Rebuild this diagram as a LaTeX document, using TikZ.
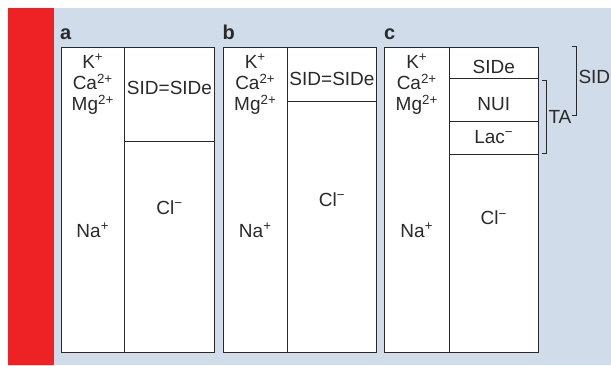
\documentclass[tikz,border=0pt]{standalone}
\usepackage{fontspec}
\setmainfont{Liberation Sans}
\definecolor{stripred}{HTML}{EE2124}
\definecolor{panelblue}{HTML}{D0DCE9}
\definecolor{inkgray}{HTML}{2A2A2A}
\newcommand{\ionsup}[1]{\textsuperscript{#1}}
\begin{document}
\begin{tikzpicture}[x=1pt,y=-1pt,
  cell/.style={draw=inkgray,line width=0.9pt,fill=white},
  rule/.style={draw=inkgray,line width=0.9pt},
  ion/.style={anchor=base,inner sep=0pt,text=inkgray,font=\fontsize{19}{21}\selectfont},
  sidelabel/.style={anchor=base west,inner sep=0pt,text=inkgray,font=\fontsize{19}{21}\selectfont},
  panellabel/.style={anchor=base west,inner sep=0pt,text=inkgray,font=\bfseries\fontsize{20}{24}\selectfont},
  bracket/.style={draw=inkgray,line width=0.8pt}]
\useasboundingbox (0,0) rectangle (611,365);
\fill[white] (0,0) rectangle (611,365);
\fill[panelblue] (54,8) rectangle (611,365);
\fill[stripred] (8,8) rectangle (54,365);

% panel a
\node[panellabel] (la) at (60,39) {a};
\draw[cell] (61,47) rectangle (214.5,352);
\draw[rule] (124.5,47) -- (124.5,352);
\draw[rule] (124.5,141.5) -- (214.5,141.5);
\node[ion] (aK)  at (92.75,68)   {K\ionsup{+}};
\node[ion] (aCa) at (92.75,89.5) {Ca\ionsup{2+}};
\node[ion] (aMg) at (92.75,110.7){Mg\ionsup{2+}};
\node[ion] (aNa) at (92.75,237)  {Na\ionsup{+}};
\node[ion] (aSID) at (169.5,94)  {SID=SIDe};
\node[ion] (aCl) at (169.5,214)  {Cl\ionsup{−}};

% panel b
\node[panellabel] (lb) at (222.5,39) {b};
\draw[cell] (223,47) rectangle (376.5,352);
\draw[rule] (287.5,47) -- (287.5,352);
\draw[rule] (287.5,101) -- (376.5,101);
\node[ion] (bK)  at (255.25,68)   {K\ionsup{+}};
\node[ion] (bCa) at (255.25,89.5) {Ca\ionsup{2+}};
\node[ion] (bMg) at (255.25,110.7){Mg\ionsup{2+}};
\node[ion] (bNa) at (255.25,237)  {Na\ionsup{+}};
\node[ion] (bSID) at (332,85)     {SID=SIDe};
\node[ion] (bCl) at (332,206)     {Cl\ionsup{−}};

% panel c
\node[panellabel] (lc) at (384,39) {c};
\draw[cell] (384.5,47) rectangle (538.5,352);
\draw[rule] (449,47) -- (449,352);
\draw[rule] (449,78.5) -- (538.5,78.5);
\draw[rule] (449,121.5) -- (538.5,121.5);
\draw[rule] (449,154) -- (538.5,154);
\node[ion] (cK)  at (416.75,68)   {K\ionsup{+}};
\node[ion] (cCa) at (416.75,89.5) {Ca\ionsup{2+}};
\node[ion] (cMg) at (416.75,110.7){Mg\ionsup{2+}};
\node[ion] (cNa) at (416.75,237)  {Na\ionsup{+}};
\node[ion] (cSIDe) at (493.75,73) {SIDe};
\node[ion] (cNUI) at (493.75,110) {NUI};
\node[ion] (cLac) at (493.75,143) {Lac\ionsup{−}};
\node[ion] (cCl) at (493.75,224.5){Cl\ionsup{−}};

% brackets to the right of panel c
\coordinate (sidTop) at (576.7,46);
\coordinate (sidBot) at (576.7,115);
\coordinate (taTop) at (546.7,80);
\coordinate (taBot) at (546.7,153.3);
\draw[bracket] ([xshift=-5pt]sidTop) -- (sidTop) -- (sidBot) -- ([xshift=-5pt]sidBot);
\draw[bracket] ([xshift=-4.5pt]taTop) -- (taTop) -- (taBot) -- ([xshift=-4.5pt]taBot);
\node[sidelabel] (sidText) at (578.3,83.3) {SID};
\node[sidelabel] (taText) at (548.3,123.5) {TA};
\end{tikzpicture}
\end{document}
